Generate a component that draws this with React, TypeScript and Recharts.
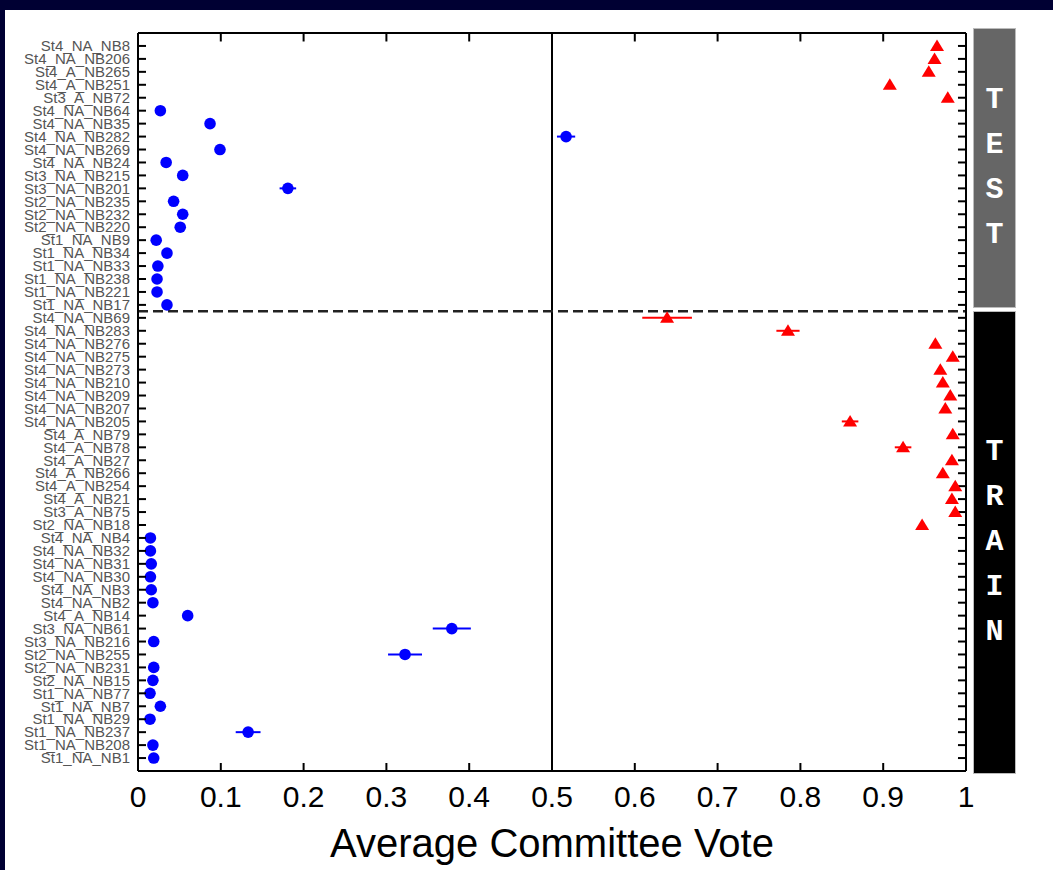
import React from 'react';
import {
  ScatterChart,
  Scatter,
  XAxis,
  YAxis,
  ReferenceLine,
  ErrorBar,
} from 'recharts';

// Rows listed top to bottom
const rowLabels = [
  'St4_NA_NB8', 'St4_NA_NB206', 'St4_A_NB265', 'St4_A_NB251', 'St3_A_NB72',
  'St4_NA_NB64', 'St4_NA_NB35', 'St4_NA_NB282', 'St4_NA_NB269', 'St4_NA_NB24',
  'St3_NA_NB215', 'St3_NA_NB201', 'St2_NA_NB235', 'St2_NA_NB232', 'St2_NA_NB220',
  'St1_NA_NB9', 'St1_NA_NB34', 'St1_NA_NB33', 'St1_NA_NB238', 'St1_NA_NB221',
  'St1_NA_NB17',
  'St4_NA_NB69', 'St4_NA_NB283', 'St4_NA_NB276', 'St4_NA_NB275', 'St4_NA_NB273',
  'St4_NA_NB210', 'St4_NA_NB209', 'St4_NA_NB207', 'St4_NA_NB205', 'St4_A_NB79',
  'St4_A_NB78', 'St4_A_NB27', 'St4_A_NB266', 'St4_A_NB254', 'St4_A_NB21',
  'St3_A_NB75', 'St2_NA_NB18', 'St4_NA_NB4', 'St4_NA_NB32', 'St4_NA_NB31',
  'St4_NA_NB30', 'St4_NA_NB3', 'St4_NA_NB2', 'St4_A_NB14', 'St3_NA_NB61',
  'St3_NA_NB216', 'St2_NA_NB255', 'St2_NA_NB231', 'St2_NA_NB15', 'St1_NA_NB77',
  'St1_NA_NB7', 'St1_NA_NB29', 'St1_NA_NB237', 'St1_NA_NB208', 'St1_NA_NB1',
];

const votes = [
  0.965, 0.962, 0.955, 0.908, 0.978,
  0.027, 0.087, 0.517, 0.099, 0.034,
  0.054, 0.181, 0.043, 0.054, 0.051,
  0.022, 0.035, 0.024, 0.023, 0.023,
  0.035,
  0.639, 0.785, 0.963, 0.984, 0.969,
  0.972, 0.981, 0.975, 0.86, 0.984,
  0.924, 0.983, 0.972, 0.987, 0.983,
  0.987, 0.947, 0.015, 0.015, 0.016,
  0.015, 0.016, 0.018, 0.06, 0.379,
  0.019, 0.3225, 0.019, 0.018, 0.0145,
  0.027, 0.0145, 0.133, 0.018, 0.019,
];

const voteErr = [
  0, 0, 0, 0, 0,
  0, 0, 0.011, 0, 0,
  0, 0.01, 0, 0, 0,
  0, 0, 0, 0, 0,
  0,
  0.03, 0.014, 0, 0, 0,
  0, 0, 0, 0.01, 0,
  0.01, 0, 0, 0, 0,
  0, 0, 0, 0, 0,
  0, 0, 0, 0, 0.023,
  0, 0.0205, 0, 0, 0,
  0, 0, 0.015, 0, 0,
];

// 1 = red triangle class, 0 = blue circle class
const markerClass = [
  1, 1, 1, 1, 1,
  0, 0, 0, 0, 0,
  0, 0, 0, 0, 0,
  0, 0, 0, 0, 0,
  0,
  1, 1, 1, 1, 1,
  1, 1, 1, 1, 1,
  1, 1, 1, 1, 1,
  1, 1, 0, 0, 0,
  0, 0, 0, 0, 0,
  0, 0, 0, 0, 0,
  0, 0, 0, 0, 0,
];

const testCount = 21;
const xTicks = [0, 0.1, 0.2, 0.3, 0.4, 0.5, 0.6, 0.7, 0.8, 0.9, 1];
const xTickLabels = ['0', '0.1', '0.2', '0.3', '0.4', '0.5', '0.6', '0.7', '0.8', '0.9', '1'];
const testLetters = ['T', 'E', 'S', 'T'];
const trainLetters = ['T', 'R', 'A', 'I', 'N'];

const N = rowLabels.length;
const rows = rowLabels.map((label, i) => ({
  label,
  x: votes[i],
  y: N - i,
  err: voteErr[i],
  cls: markerClass[i],
}));
const blueData = rows.filter((r) => r.cls === 0);
const redData = rows.filter((r) => r.cls === 1);
const yTicks = rowLabels.map((_, i) => N - i);
const splitY = N - testCount + 0.5;

const X_DOMAIN: [number, number] = [0, 1];
const Y_DOMAIN: [number, number] = [0, N + 1];
// inward tick-mark length as a fraction of each axis span (MATLAB-style ticks)
const TICK_FRAC_X = 0.0097;
const TICK_FRAC_Y = 0.0115;
const tickLenX = (X_DOMAIN[1] - X_DOMAIN[0]) * TICK_FRAC_X;
const tickLenY = (Y_DOMAIN[1] - Y_DOMAIN[0]) * TICK_FRAC_Y;
const TICK_PX = 8;

const sans = "'Liberation Sans', Arial, sans-serif";
const mono = "'Liberation Mono', 'Courier New', monospace";

const BlueDot = (props: any) => {
  const { cx, cy } = props;
  if (cx == null || cy == null) return null;
  return <circle cx={cx} cy={cy} r={5.8} fill="#0000ff" />;
};

const RedTri = (props: any) => {
  const { cx, cy } = props;
  if (cx == null || cy == null) return null;
  return (
    <polygon
      points={`${cx},${cy - 6.5} ${cx + 7},${cy + 5} ${cx - 7},${cy + 5}`}
      fill="#ff0000"
    />
  );
};

const LeftTick = (props: any) => {
  const { x, y, payload } = props;
  const label = rowLabels[N - payload.value] ?? '';
  return (
    <g>
      <line x1={x} x2={x + TICK_PX} y1={y} y2={y} stroke="#000" strokeWidth={2} />
      <text
        x={x - 8}
        y={y}
        dy="0.35em"
        textAnchor="end"
        fontSize={15}
        fill="#555"
        fontFamily={sans}
      >
        {label}
      </text>
    </g>
  );
};

const BottomTick = (props: any) => {
  const { x, y, payload } = props;
  const idx = xTicks.indexOf(payload.value);
  const label = idx >= 0 ? xTickLabels[idx] : String(payload.value);
  return (
    <g>
      <line x1={x} x2={x} y1={y} y2={y - TICK_PX} stroke="#000" strokeWidth={2} />
      <text
        x={x}
        y={y + 14}
        dy="0.72em"
        textAnchor="middle"
        fontSize={30}
        fill="#000"
        fontFamily={sans}
      >
        {label}
      </text>
    </g>
  );
};

export default function App() {
  const letterStyle: React.CSSProperties = {
    height: 45,
    lineHeight: '45px',
    color: '#fff',
    fontFamily: mono,
    fontWeight: 'bold',
    fontSize: 30,
    textAlign: 'center',
  };

  return (
    <div
      style={{
        position: 'fixed',
        left: 0,
        top: 0,
        width: 1053,
        height: 870,
        background: '#000033',
        overflow: 'hidden',
      }}
    >
      <div
        style={{
          position: 'absolute',
          left: 5,
          top: 10,
          right: 0,
          bottom: 0,
          background: '#ffffff',
        }}
      />
      <div style={{ position: 'absolute', left: 0, top: 0 }}>
        <ScatterChart
          width={1053}
          height={870}
          margin={{ top: 32, right: 86, bottom: 0, left: 0 }}
        >
          <XAxis
            type="number"
            dataKey="x"
            domain={X_DOMAIN}
            ticks={xTicks}
            height={99}
            tickSize={0}
            tickMargin={0}
            tickLine={false}
            axisLine={{ stroke: '#000', strokeWidth: 2 }}
            tick={BottomTick}
            allowDataOverflow
            label={{
              value: 'Average Committee Vote',
              position: 'insideBottom',
              offset: 13,
              style: { fontSize: 40, fill: '#000', fontFamily: sans },
            }}
          />
          <XAxis
            xAxisId="top"
            orientation="top"
            type="number"
            domain={X_DOMAIN}
            ticks={xTicks}
            height={1}
            tickLine={false}
            tick={false}
            axisLine={{ stroke: '#000', strokeWidth: 2 }}
          />
          <YAxis
            type="number"
            dataKey="y"
            domain={Y_DOMAIN}
            ticks={yTicks}
            interval={0}
            width={138}
            tickSize={0}
            tickMargin={0}
            tickLine={false}
            axisLine={{ stroke: '#000', strokeWidth: 2 }}
            tick={LeftTick}
          />
          <YAxis
            yAxisId="r"
            orientation="right"
            type="number"
            domain={Y_DOMAIN}
            ticks={yTicks}
            width={1}
            tickLine={false}
            tick={false}
            axisLine={{ stroke: '#000', strokeWidth: 2 }}
          />
          {yTicks.map((v) => (
            <ReferenceLine
              key={`yr${v}`}
              segment={[
                { x: X_DOMAIN[1] - tickLenX, y: v },
                { x: X_DOMAIN[1], y: v },
              ]}
              stroke="#000"
              strokeWidth={2}
              ifOverflow="visible"
            />
          ))}
          {xTicks.map((v) => (
            <ReferenceLine
              key={`xt${v}`}
              segment={[
                { x: v, y: Y_DOMAIN[1] - tickLenY },
                { x: v, y: Y_DOMAIN[1] },
              ]}
              stroke="#000"
              strokeWidth={2}
              ifOverflow="visible"
            />
          ))}
          <ReferenceLine x={0.5} stroke="#000" strokeWidth={2} />
          <ReferenceLine
            y={splitY}
            stroke="#222"
            strokeWidth={2.5}
            strokeDasharray="10 5"
          />
          <Scatter data={blueData} shape={BlueDot} isAnimationActive={false}>
            <ErrorBar
              dataKey="err"
              direction="x"
              width={0}
              stroke="#0000ff"
              strokeWidth={2}
              isAnimationActive={false}
            />
          </Scatter>
          <Scatter data={redData} shape={RedTri} isAnimationActive={false}>
            <ErrorBar
              dataKey="err"
              direction="x"
              width={0}
              stroke="#ff0000"
              strokeWidth={2}
              isAnimationActive={false}
            />
          </Scatter>
        </ScatterChart>
      </div>
      <div
        style={{
          position: 'absolute',
          left: 974,
          top: 29,
          width: 41,
          height: 278,
          background: '#666666',
          boxShadow: '0 0 0 1px #bbbbbb',
          display: 'flex',
          flexDirection: 'column',
          justifyContent: 'center',
        }}
      >
        {testLetters.map((l, i) => (
          <div key={i} style={letterStyle}>
            {l}
          </div>
        ))}
      </div>
      <div
        style={{
          position: 'absolute',
          left: 974,
          top: 312,
          width: 41,
          height: 461,
          background: '#000000',
          boxShadow: '0 0 0 1px #bbbbbb',
          display: 'flex',
          flexDirection: 'column',
          justifyContent: 'center',
        }}
      >
        {trainLetters.map((l, i) => (
          <div key={i} style={letterStyle}>
            {l}
          </div>
        ))}
      </div>
    </div>
  );
}
